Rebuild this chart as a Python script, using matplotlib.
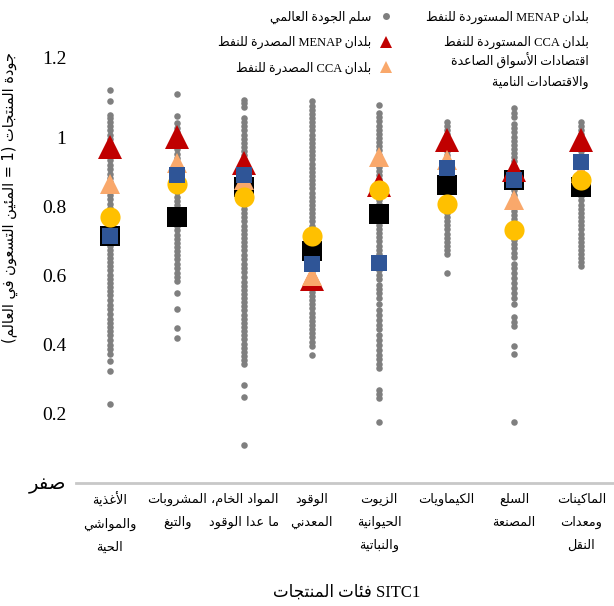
import re
import numpy as np
import matplotlib
matplotlib.use("Agg")
import matplotlib.pyplot as plt
from matplotlib.lines import Line2D
from matplotlib.transforms import ScaledTranslation

plt.rcParams['font.family'] = ['Liberation Serif', 'DejaVu Sans']

# ---------------- data ----------------
categories = ["الأغذية\nوالمواشي\nالحية", "المشروبات\nوالتبغ", "المواد الخام،\nما عدا الوقود",
              "الوقود\nالمعدني", "الزيوت\nالحيوانية\nوالنباتية", "الكيماويات",
              "السلع\nالمصنعة", "الماكينات\nومعدات\nالنقل"]

world_food = [1.14, 1.106, 1.067, 1.058, 1.046, 1.035, 1.022, 1.01, 0.998, 0.985, 0.972, 0.96, 0.948,
              0.935, 0.922, 0.91, 0.897, 0.884, 0.872, 0.86, 0.848, 0.836, 0.823, 0.81, 0.798, 0.786,
              0.774, 0.762, 0.75, 0.738, 0.725, 0.712, 0.70, 0.688, 0.676, 0.664, 0.652, 0.64, 0.628,
              0.616, 0.604, 0.592, 0.58, 0.568, 0.556, 0.545, 0.53, 0.517, 0.505, 0.49, 0.476, 0.465,
              0.452, 0.44, 0.428, 0.414, 0.40, 0.388, 0.374, 0.355, 0.324, 0.23]
world_bev = [1.128, 1.064, 1.043, 1.03, 1.018, 1.005, 0.992, 0.98, 0.968, 0.955, 0.942, 0.93, 0.918,
             0.905, 0.893, 0.88, 0.868, 0.856, 0.843, 0.83, 0.818, 0.806, 0.793, 0.78, 0.768, 0.756,
             0.744, 0.732, 0.72, 0.708, 0.696, 0.684, 0.672, 0.662, 0.648, 0.636, 0.622, 0.61, 0.598,
             0.585, 0.552, 0.504, 0.45, 0.421]
world_raw = [1.11, 1.10, 1.09, 1.058, 1.046, 1.034, 1.022, 1.01, 0.998, 0.986, 0.974, 0.962, 0.95,
             0.938, 0.926, 0.914, 0.902, 0.89, 0.878, 0.866, 0.854, 0.842, 0.83, 0.818, 0.806, 0.794,
             0.782, 0.77, 0.758, 0.746, 0.734, 0.722, 0.71, 0.698, 0.686, 0.674, 0.66, 0.648, 0.636,
             0.624, 0.612, 0.598, 0.584, 0.572, 0.56, 0.548, 0.536, 0.524, 0.512, 0.50, 0.488, 0.476,
             0.464, 0.452, 0.44, 0.428, 0.416, 0.404, 0.392, 0.38, 0.368, 0.356, 0.344, 0.283, 0.25, 0.11]
world_fuel = [1.106, 1.094, 1.082, 1.07, 1.058, 1.046, 1.034, 1.022, 1.01, 0.998, 0.986, 0.974, 0.962,
              0.95, 0.938, 0.926, 0.914, 0.902, 0.89, 0.878, 0.866, 0.854, 0.842, 0.83, 0.818, 0.806,
              0.794, 0.782, 0.77, 0.758, 0.746, 0.734, 0.722, 0.71, 0.698, 0.686, 0.674, 0.662, 0.65,
              0.638, 0.626, 0.614, 0.602, 0.59, 0.578, 0.566, 0.554, 0.542, 0.53, 0.518, 0.506, 0.494,
              0.482, 0.47, 0.458, 0.446, 0.434, 0.422, 0.41, 0.398, 0.37]
world_oils = [1.096, 1.072, 1.06, 1.048, 1.036, 1.024, 1.012, 1.0, 0.988, 0.976, 0.964, 0.952, 0.94,
              0.928, 0.916, 0.904, 0.892, 0.88, 0.868, 0.856, 0.844, 0.832, 0.82, 0.808, 0.796, 0.784,
              0.772, 0.76, 0.748, 0.736, 0.724, 0.712, 0.70, 0.688, 0.676, 0.664, 0.652, 0.64, 0.628,
              0.616, 0.604, 0.592, 0.575, 0.562, 0.55, 0.536, 0.52, 0.50, 0.488, 0.472, 0.458, 0.445,
              0.43, 0.415, 0.40, 0.386, 0.372, 0.358, 0.345, 0.333, 0.271, 0.258, 0.245, 0.178]
world_chem = [1.047, 1.035, 1.023, 1.011, 0.999, 0.987, 0.975, 0.963, 0.951, 0.939, 0.927, 0.915, 0.903,
              0.891, 0.879, 0.867, 0.855, 0.843, 0.831, 0.819, 0.807, 0.795, 0.783, 0.771, 0.759, 0.747,
              0.735, 0.723, 0.711, 0.699, 0.687, 0.675, 0.663, 0.61]
world_manuf = [1.087, 1.073, 1.06, 1.04, 1.028, 1.016, 1.004, 0.992, 0.98, 0.968, 0.956, 0.944, 0.932,
               0.92, 0.908, 0.896, 0.884, 0.872, 0.86, 0.848, 0.836, 0.824, 0.812, 0.80, 0.788, 0.776,
               0.764, 0.752, 0.74, 0.728, 0.716, 0.704, 0.692, 0.68, 0.668, 0.656, 0.636, 0.622, 0.608,
               0.594, 0.58, 0.566, 0.55, 0.536, 0.52, 0.48, 0.467, 0.455, 0.396, 0.373, 0.178]
world_mach = [1.047, 1.035, 1.023, 1.011, 0.999, 0.987, 0.975, 0.963, 0.951, 0.939, 0.927, 0.915, 0.903,
              0.891, 0.879, 0.867, 0.855, 0.843, 0.831, 0.819, 0.807, 0.795, 0.783, 0.771, 0.759, 0.747,
              0.735, 0.723, 0.711, 0.699, 0.687, 0.675, 0.663, 0.651, 0.64, 0.63]
world_ladder = [world_food, world_bev, world_raw, world_fuel, world_oils, world_chem, world_manuf, world_mach]

menap_exporters = [0.975, 1.004, 0.927, 0.59, 0.863, 0.994, 0.907, 0.994]
cca_exporters = [0.866, 0.927, 0.877, 0.60, 0.945, 0.936, 0.82, 0.898]
menap_importers = [0.717, 0.77, 0.858, 0.673, 0.78, 0.863, 0.877, 0.858]
cca_importers = [0.715, 0.892, 0.892, 0.635, 0.639, 0.912, 0.877, 0.931]
emde = [0.77, 0.868, 0.829, 0.717, 0.848, 0.81, 0.732, 0.877]

ytick_values = [0, 0.2, 0.4, 0.6, 0.8, 1.0, 1.2]
ytick_labels = ["صفر", "0.2", "0.4", "0.6", "0.8", "1", "1.2"]

ylabel_text = "جودة المنتجات (1 = المئين التسعون في العالم)"
xlabel_text = "SITC1 فئات المنتجات"
lbl_world = "سلم الجودة العالمي"
lbl_menap_exp = "بلدان MENAP المصدرة للنفط"
lbl_cca_exp = "بلدان CCA المصدرة للنفط"
lbl_menap_imp = "بلدان MENAP المستوردة للنفط"
lbl_cca_imp = "بلدان CCA المستوردة للنفط"
lbl_emde = "اقتصادات الأسواق الصاعدة\nوالاقتصادات النامية"

# ---------------- Arabic shaping (presentation forms + visual order) ----------------
_R = {'\u0622': 0xFE81, '\u0623': 0xFE83, '\u0624': 0xFE85, '\u0625': 0xFE87, '\u0627': 0xFE8D,
      '\u0629': 0xFE93, '\u062F': 0xFEA9, '\u0630': 0xFEAB, '\u0631': 0xFEAD, '\u0632': 0xFEAF,
      '\u0648': 0xFEED, '\u0649': 0xFEEF}
_D = {'\u0626': 0xFE89, '\u0628': 0xFE8F, '\u062A': 0xFE95, '\u062B': 0xFE99, '\u062C': 0xFE9D,
      '\u062D': 0xFEA1, '\u062E': 0xFEA5, '\u0633': 0xFEB1, '\u0634': 0xFEB5, '\u0635': 0xFEB9,
      '\u0636': 0xFEBD, '\u0637': 0xFEC1, '\u0638': 0xFEC5, '\u0639': 0xFEC9, '\u063A': 0xFECD,
      '\u0641': 0xFED1, '\u0642': 0xFED5, '\u0643': 0xFED9, '\u0644': 0xFEDD, '\u0645': 0xFEE1,
      '\u0646': 0xFEE5, '\u0647': 0xFEE9, '\u064A': 0xFEF1}
_U = {'\u0621': 0xFE80}
_LA = {'\u0622': 0xFEF5, '\u0623': 0xFEF7, '\u0625': 0xFEF9, '\u0627': 0xFEFB}


def _shape(s):
    toks = []
    i = 0
    while i < len(s):
        if s[i] == '\u0644' and i + 1 < len(s) and s[i + 1] in _LA:
            toks.append(('LA', s[i + 1]))
            i += 2
        else:
            toks.append(('C', s[i]))
            i += 1

    def jl(t):
        return t[0] == 'C' and t[1] in _D

    def jr(t):
        return t[0] == 'LA' or t[1] in _D or t[1] in _R

    out = []
    for k, t in enumerate(toks):
        p = toks[k - 1] if k > 0 else None
        n = toks[k + 1] if k + 1 < len(toks) else None
        jp = p is not None and jl(p) and jr(t)
        jn = n is not None and jl(t) and jr(n)
        c = t[1]
        if t[0] == 'LA':
            out.append(chr(_LA[c] + (1 if jp else 0)))
        elif c in _D:
            out.append(chr(_D[c] + (3 if (jp and jn) else 2 if jn else 1 if jp else 0)))
        elif c in _R:
            out.append(chr(_R[c] + (1 if jp else 0)))
        elif c in _U:
            out.append(chr(_U[c]))
        else:
            out.append(c)
    return ''.join(out)


_MIRROR = {'(': ')', ')': '('}


def ar(s):
    lines = []
    for line in s.split('\n'):
        parts = re.split(r'([A-Za-z0-9.]+)', _shape(line))
        vis = []
        for p in reversed(parts):
            if re.fullmatch(r'[A-Za-z0-9.]+', p):
                vis.append(p)
            else:
                vis.append(''.join(_MIRROR.get(ch, ch) for ch in reversed(p)))
        lines.append(''.join(vis))
    return '\n'.join(lines)


# ---------------- figure ----------------
fig = plt.figure(figsize=(6.14, 6.06), dpi=100)
ax = fig.add_axes([76 / 614, 123 / 606, 539 / 614, 414 / 606])

x = np.arange(len(categories))
for i, vals in enumerate(world_ladder):
    ax.plot(np.full(len(vals), x[i]), vals, 'o', color='#7f7f7f', ms=4.7, mew=0, zorder=1)

ax.plot(x, menap_importers, 's', color='black', ms=14, mew=0, zorder=2)
ax.plot(x, menap_exporters, '^', color='#c00000', ms=17, mew=0, zorder=3)
ax.plot(x, cca_exporters, '^', color='#f9a86b', ms=15, mew=0, zorder=4)
ax.plot(x, emde, 'o', color='#ffc000', ms=14.5, mew=0, zorder=5)
ax.plot(x, cca_importers, 's', color='#2f5597', ms=11.5, mew=0, zorder=6)

ax.set_xlim(-0.5, 7.5)
ax.set_ylim(0, 1.2)
for s in ['top', 'right', 'left']:
    ax.spines[s].set_visible(False)
ax.spines['bottom'].set_color('#c8c8c8')
ax.spines['bottom'].set_linewidth(2)

ax.set_xticks(x)
ax.set_xticklabels([ar(c) for c in categories], fontsize=9.3, linespacing=2.0,
                   family=['DejaVu Sans'])
ax.tick_params(axis='x', length=0, pad=7)

ax.set_yticks(ytick_values)
ax.set_yticklabels([ar(t) for t in ytick_labels], fontsize=14)
ax.tick_params(axis='y', length=0, pad=7)
lab12 = ax.get_yticklabels()[-1]
lab12.set_transform(lab12.get_transform() + ScaledTranslation(0, 11 / 100, fig.dpi_scale_trans))

ax.set_ylabel(ar(ylabel_text), fontsize=10.5, family=['DejaVu Sans'])
ax.yaxis.set_label_coords(-0.108, 0.69)

fig.text(0.565, 0.022, ar(xlabel_text), fontsize=12, ha='center', va='center',
         family=['Liberation Serif', 'DejaVu Sans'])

# legend (left column, with markers on the right)
handles = [Line2D([], [], ls='none', marker='o', color='#7f7f7f', ms=5, mew=0),
           Line2D([], [], ls='none', marker='^', color='#c00000', ms=8, mew=0),
           Line2D([], [], ls='none', marker='^', color='#f9a86b', ms=8, mew=0)]
leg = fig.legend(handles, [ar(lbl_world), ar(lbl_menap_exp), ar(lbl_cca_exp)],
                 loc='upper right', bbox_to_anchor=(400 / 614, 1.0 - 3 / 606), frameon=False,
                 markerfirst=False, fontsize=9, labelspacing=1.0, handletextpad=0.7,
                 handlelength=1.0, borderaxespad=0.2)

# right column texts (markers not visible in reference)
fig.text(589 / 614, 1 - 17 / 606, ar(lbl_menap_imp), fontsize=9, ha='right', va='center')
fig.text(589 / 614, 1 - 42 / 606, ar(lbl_cca_imp), fontsize=9, ha='right', va='center')
fig.text(589 / 614, 1 - 71 / 606, ar(lbl_emde), fontsize=9, ha='right', va='center',
         linespacing=1.7, multialignment='right')

fig.savefig('out.png', dpi=100)
